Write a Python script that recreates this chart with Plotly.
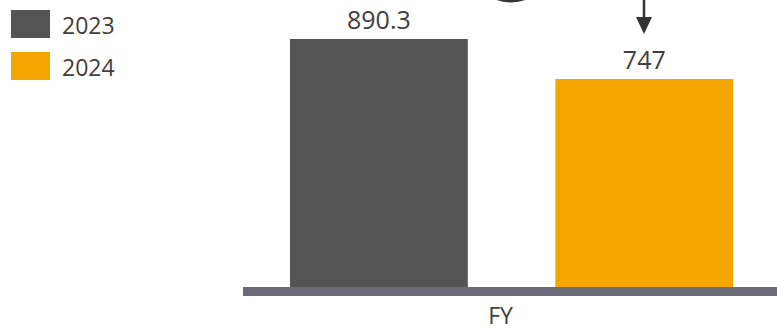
import plotly.graph_objects as go

# Data
categories = ["FY"]
series_names = ["2023", "2024"]
values_2023 = [890.3]
values_2024 = [747]
value_labels_2023 = ["890.3"]
value_labels_2024 = ["747"]

W, H = 777, 331
L, R, T, B = 243, 0, 0, 44
PW, PH = W - L - R, H - T - B

def px(x):
    return (x - L) / PW

def py(y):
    return (H - B - y) / PH

colors = {"2023": "#545454", "2024": "#F5A500"}
txt = "#404040"
font_family = "Open Sans, Segoe UI, sans-serif"

fig = go.Figure()
for name, vals, labs in [("2023", values_2023, value_labels_2023),
                         ("2024", values_2024, value_labels_2024)]:
    fig.add_trace(go.Bar(
        x=categories, y=vals, name=name,
        marker=dict(color=colors[name], line=dict(width=0)),
        text=labs, textposition="outside", cliponaxis=False,
        textfont=dict(size=25, color=txt, family=font_family),
        showlegend=False,
    ))

shapes = []
annotations = []
# manual legend
for i, name in enumerate(series_names):
    y0 = 10 + i * 42
    shapes.append(dict(type="rect", xref="paper", yref="paper",
                       x0=px(11), x1=px(50), y0=py(y0 + 28), y1=py(y0),
                       fillcolor=colors[name], line=dict(width=0)))
    annotations.append(dict(xref="paper", yref="paper", x=px(60), y=py(y0 + 15),
                            text=name, showarrow=False, xanchor="left", yanchor="middle",
                            font=dict(size=23, color=txt, family=font_family)))

# arrow decoration
shapes.append(dict(type="line", xref="paper", yref="paper",
                   x0=px(644), x1=px(644), y0=py(-5), y1=py(19),
                   line=dict(color="#333333", width=2.5)))
shapes.append(dict(type="path", xref="paper", yref="paper",
                   path="M %f,%f L %f,%f L %f,%f Z" % (px(636), py(17), px(652), py(17), px(644), py(34)),
                   fillcolor="#333333", line=dict(width=0)))
# arc decoration (bottom of a circle cut off at the top edge)
shapes.append(dict(type="circle", xref="paper", yref="paper",
                   x0=px(471), x1=px(551), y0=py(1.2), y1=py(-78.8),
                   line=dict(color="#333333", width=2.5)))

fig.update_layout(
    template="none",
    width=W, height=H,
    margin=dict(l=L, r=R, t=T, b=B, pad=0),
    paper_bgcolor="white", plot_bgcolor="white",
    barmode="group", bargap=0.0, bargroupgap=0.33,
    font=dict(family=font_family, color=txt),
    shapes=shapes, annotations=annotations,
    showlegend=False,
    xaxis=dict(range=[-0.506, 0.5], showline=True, linecolor="#6B6B78", linewidth=9,
               automargin=False, showgrid=False, zeroline=False, ticks="",
               tickfont=dict(size=23, color=txt, family=font_family),
               ticklabelshift=-11, ticklabelstandoff=0),
    yaxis=dict(range=[0, 1030.3], visible=False, showgrid=False, zeroline=False,
               automargin=False),
)

fig.write_html("out.html")
